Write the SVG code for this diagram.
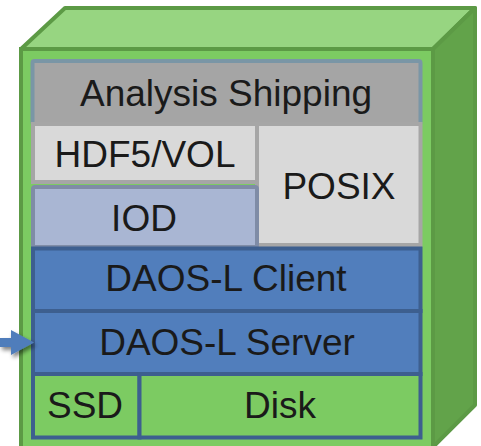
<svg xmlns="http://www.w3.org/2000/svg" width="481" height="446" viewBox="0 0 481 446">
<style>
text{font-family:"Liberation Sans",Arial,sans-serif;font-size:37px;fill:#1a1a1a;text-anchor:middle}
.blue{fill:#517EBC;stroke:#3D5F8F;stroke-width:4}
.grn{fill:#7CCB62;stroke:#3D5F8F;stroke-width:4}
.gry{fill:#D9D9D9;stroke:#A6A6A6;stroke-width:4}
</style>
<defs>
<filter id="sh" x="-30%" y="-50%" width="160%" height="200%">
<feGaussianBlur in="SourceAlpha" stdDeviation="2"/>
<feOffset dx="2" dy="3" result="b"/>
<feComponentTransfer><feFuncA type="linear" slope="0.5"/></feComponentTransfer>
<feMerge><feMergeNode/><feMergeNode in="SourceGraphic"/></feMerge>
</filter>
</defs>
<g id="cube">
<polygon points="21,49 65,8 475,8 433,49" fill="#97D581" stroke="#5C9A45" stroke-width="4" stroke-linejoin="round"/>
<polygon points="433,49 475,8 475,405 433,447" fill="#62A34A" stroke="#5C9A45" stroke-width="4" stroke-linejoin="round"/>
<rect x="21" y="49" width="412" height="402" fill="#7CCB62" stroke="#5C9A45" stroke-width="4"/>
</g>
<g id="analysis">
<rect x="32.5" y="61" width="388" height="63" rx="2" fill="#A5A5A5" stroke="#7A96A6" stroke-width="4"/>
<text x="226" y="106">Analysis Shipping</text>
</g>
<g id="posix">
<rect x="257" y="124" width="163.5" height="121" class="gry"/>
<text x="339" y="199">POSIX</text>
</g>
<g id="hdf5">
<rect x="33" y="124" width="224" height="58" class="gry"/>
<text x="145" y="167">HDF5/VOL</text>
</g>
<g id="iod">
<rect x="33" y="187" width="224" height="60" rx="2" fill="#A9B6D3" stroke="#7F8CA6" stroke-width="4"/>
<text x="144" y="231">IOD</text>
</g>
<g id="client">
<rect x="33" y="248.5" width="387.5" height="62.5" class="blue"/>
<text x="226" y="291">DAOS-L Client</text>
</g>
<g id="server">
<rect x="33" y="311" width="387.5" height="63" class="blue"/>
<text x="227" y="355">DAOS-L Server</text>
</g>
<g id="ssd">
<rect x="33" y="374" width="106.5" height="63.5" class="grn"/>
<text x="85" y="418">SSD</text>
</g>
<g id="disk">
<rect x="139.5" y="374" width="281" height="63.5" class="grn"/>
<text x="280" y="418">Disk</text>
</g>
<g id="connectors">
<polygon points="0,338 11,338 11,330 34,342.5 11,355 11,347 0,347" fill="#4F7DBB" filter="url(#sh)"/>
</g>
</svg>
